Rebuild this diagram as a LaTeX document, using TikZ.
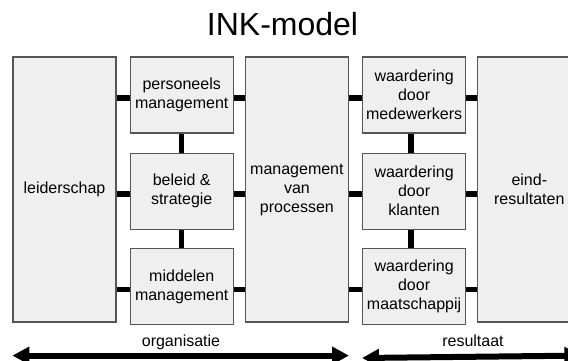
\documentclass[tikz,border=0pt]{standalone}
\usepackage{fontspec}
\setmainfont{Liberation Sans}
\usetikzlibrary{positioning, arrows.meta,
calc % for the slightly lowered links
}
\definecolor{boxfill}{HTML}{EFEFEF}
\definecolor{boxline}{HTML}{555555}
\tikzset{%
  block/.style={draw=boxline, fill=boxfill, line width=1.2pt, minimum width=103pt,
    inner sep=2pt, align=center, font=\fontsize{16}{19}\selectfont},
  bigblock/.style={block, minimum height=265pt},
  subblock/.style={block, minimum height=76pt},
  link/.style={line width=5.5pt},
  span/.style={line width=6pt, {Triangle[length=17pt, width=17pt]}-{Triangle[length=17pt, width=17pt]}}
}

\begin{document}
\begin{tikzpicture}
\useasboundingbox (0,0) rectangle (568pt,361pt);
\clip (0,0) rectangle (568pt,361pt);

\node[font=\fontsize{32}{38}\selectfont, anchor=base] (title) at (282.5pt,325pt) {INK-model};

\node[bigblock] (leid) at (64.5pt,171.5pt) {leiderschap};

\node[subblock, below right=0pt and 13pt of leid.north east] (pers) {personeels\\management};
\node[subblock, below=19pt of pers] (bel) {beleid \&\\strategie};
\node[subblock, below=18pt of bel] (mid) {middelen\\management};

\node[bigblock, below right=0pt and 11pt of pers.north east] (proc) {management\\van\\processen};

\node[subblock, below right=0pt and 13pt of proc.north east] (wd1) {waardering\\door\\medewerkers};
\node[subblock, below=19pt of wd1] (wd2) {waardering\\door\\klanten};
\node[subblock, below=18pt of wd2] (wd3) {waardering\\door\\maatschappij};

\node[bigblock, below right=0pt and 11pt of wd1.north east] (eind) {eind-\\resultaten};

% links between the columns
\foreach \s/\b in {pers/leid, bel/leid, mid/leid, wd1/proc, wd2/proc, wd3/proc} {
  \draw[link] ($(\s.west)+(0,-3pt)$) -- ($(\s.west -| \b.east)+(0,-3pt)$);
}
\foreach \s/\b in {pers/proc, bel/proc, mid/proc, wd1/eind, wd2/eind, wd3/eind} {
  \draw[link] ($(\s.east)+(0,-3pt)$) -- ($(\s.east -| \b.west)+(0,-3pt)$);
}
\draw[link] (pers.south) -- (bel.north);
\draw[link] (bel.south) -- (mid.north);
\draw[link] ([xshift=-3pt]wd1.south) -- ([xshift=-3pt]wd2.north);
\draw[link] ([xshift=-3pt]wd2.south) -- ([xshift=-3pt]wd3.north);

% the two spans below
\draw[span] ([yshift=-33pt]leid.south west) -- ([yshift=-33pt]proc.south east);
\draw[span] ([yshift=-33pt]wd3.south west) -- ([yshift=-33pt]eind.south east);
\node[font=\fontsize{16}{19}\selectfont, anchor=base] (org) at (181pt,14pt) {organisatie};
\node[font=\fontsize{16}{19}\selectfont, anchor=base] (res) at (473pt,14pt) {resultaat};

\end{tikzpicture}
\end{document}
